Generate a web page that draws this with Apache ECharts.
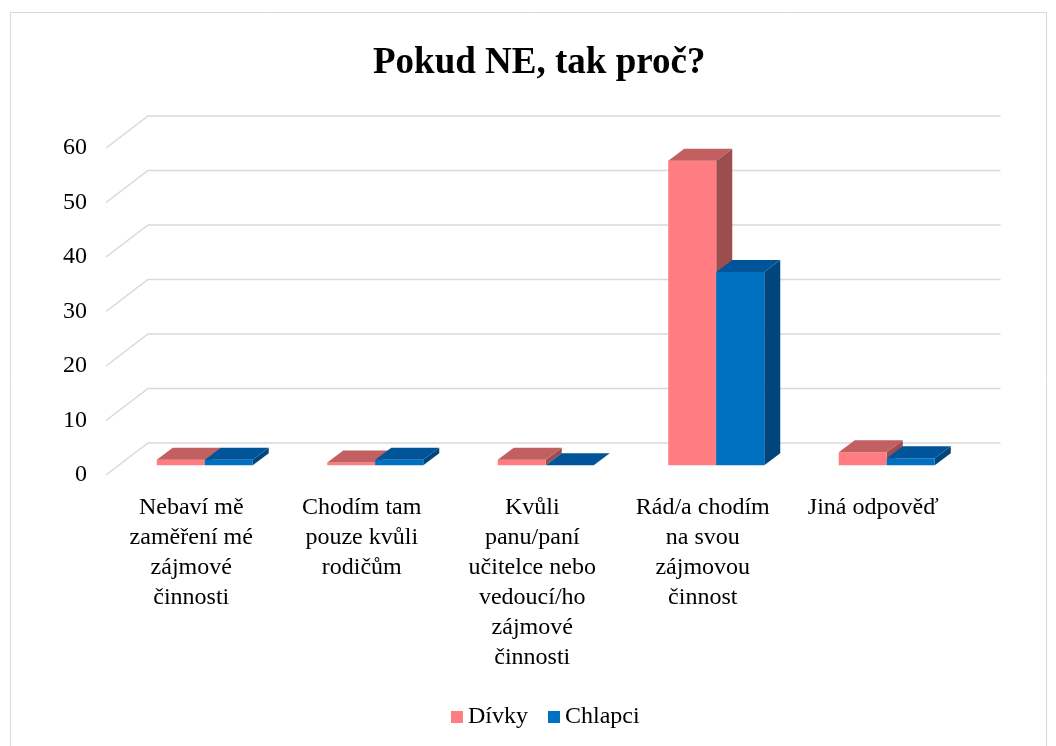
<!DOCTYPE html>
<html>
<head>
<meta charset="utf-8">
<script src="https://cdn.jsdelivr.net/npm/echarts@6/dist/echarts.min.js"></script>
<style>
  html, body { margin: 0; padding: 0; background: #fff; }
  #chart { width: 1056px; height: 746px; }
</style>
</head>
<body>
<div id="chart"></div>
<script>
const categories = [
  'Nebaví mě\nzaměření mé\nzájmové\nčinnosti',
  'Chodím tam\npouze kvůli\nrodičům',
  'Kvůli\npanu/paní\nučitelce nebo\nvedoucí/ho\nzájmové\nčinnosti',
  'Rád/a chodím\nna svou\nzájmovou\nčinnost',
  'Jiná odpověď'
];
const divky = [1, 0.5, 1, 55.8, 2.4];
const chlapci = [1, 1, 0, 35.4, 1.3];
const yTicks = [0, 10, 20, 30, 40, 50, 60];

// 3D look: full depth of the floor/walls, and depth of one bar
const WALL_DX = 42, WALL_DY = 32;
const BAR_DX = 16, BAR_DY = 12;
const BAR_W = 48;

const serif = 'Liberation Serif, Times New Roman, serif';

const colors = {
  divky: { front: '#FF7C80', top: '#C25F61', side: '#9E4D4F' },
  chlapci: { front: '#0070C0', top: '#00549A', side: '#00467C' }
};

function barRenderer(pal, left) {
  return function (params, api) {
    const idx = api.value(0);
    const val = api.value(1);
    const p = api.coord([idx, val]);
    const p0 = api.coord([idx, 0]);
    const x1 = left ? p[0] - BAR_W : p[0];
    const x2 = x1 + BAR_W;
    const yt = p[1], yb = p0[1];
    return {
      type: 'group',
      children: [
        {
          type: 'polygon',
          shape: { points: [[x2, yt], [x2 + BAR_DX, yt - BAR_DY], [x2 + BAR_DX, yb - BAR_DY], [x2, yb]] },
          style: { fill: pal.side }
        },
        {
          type: 'rect',
          shape: { x: x1, y: yt, width: BAR_W, height: yb - yt },
          style: { fill: pal.front }
        },
        {
          type: 'polygon',
          shape: { points: [[x1, yt], [x1 + BAR_DX, yt - BAR_DY], [x2 + BAR_DX, yt - BAR_DY], [x2, yt]] },
          style: { fill: pal.top }
        }
      ]
    };
  };
}

const chart = echarts.init(document.getElementById('chart'));
chart.setOption({
  animation: false,
  graphic: [{
    type: 'rect',
    shape: { x: 10.5, y: 12.5, width: 1036, height: 745 },
    style: { fill: 'none', stroke: '#D9D9D9', lineWidth: 1 },
    silent: true
  }],
  title: {
    text: 'Pokud NE, tak proč?',
    left: 373,
    top: 45,
    padding: 0,
    textStyle: { fontFamily: serif, fontSize: 37, fontWeight: 'bold', color: '#000' }
  },
  legend: {
    bottom: 12,
    left: 446,
    icon: 'rect',
    itemWidth: 12,
    itemHeight: 12,
    itemGap: 20,
    textStyle: { fontFamily: serif, fontSize: 24, color: '#000' },
    data: ['Dívky', 'Chlapci']
  },
  grid: [
    // plane of the bar fronts
    { left: 119.5, top: 137.8, width: 852.5, height: 327.5 },
    // front plane of the chart (labels)
    { left: 106, top: 148, width: 852.5, height: 327 }
  ],
  xAxis: [
    { type: 'category', gridIndex: 0, data: categories, show: false },
    {
      type: 'category', gridIndex: 1, data: categories,
      axisLine: { show: false }, axisTick: { show: false },
      axisLabel: {
        interval: 0, margin: 18, fontFamily: serif, fontSize: 24,
        lineHeight: 30, color: '#000', align: 'center'
      }
    }
  ],
  yAxis: [
    { type: 'value', gridIndex: 0, min: 0, max: 60, interval: 10, show: false },
    {
      type: 'value', gridIndex: 1, min: 0, max: 60, interval: 10,
      axisLine: { show: false }, axisTick: { show: false }, splitLine: { show: false },
      axisLabel: { margin: 19, fontFamily: serif, fontSize: 24, color: '#000' }
    }
  ],
  series: [
    {
      type: 'custom',
      name: 'grid',
      xAxisIndex: 1,
      yAxisIndex: 1,
      z: 1,
      silent: true,
      data: yTicks.map(v => [0, v]),
      renderItem: function (params, api) {
        const cs = params.coordSys;
        const y = api.coord([0, api.value(1)])[1];
        const x0 = cs.x;
        return {
          type: 'polyline',
          shape: { points: [[x0, y], [x0 + WALL_DX, y - WALL_DY], [x0 + WALL_DX + cs.width, y - WALL_DY]] },
          style: { stroke: '#D9D9D9', lineWidth: 1.5, fill: 'none' }
        };
      }
    },
    {
      type: 'custom',
      name: 'Dívky',
      xAxisIndex: 0,
      yAxisIndex: 0,
      z: 2,
      itemStyle: { color: colors.divky.front },
      data: divky.map((v, i) => [i, v]),
      renderItem: barRenderer(colors.divky, true)
    },
    {
      type: 'custom',
      name: 'Chlapci',
      xAxisIndex: 0,
      yAxisIndex: 0,
      z: 3,
      itemStyle: { color: colors.chlapci.front },
      data: chlapci.map((v, i) => [i, v]),
      renderItem: barRenderer(colors.chlapci, false)
    }
  ]
});
</script>
</body>
</html>
